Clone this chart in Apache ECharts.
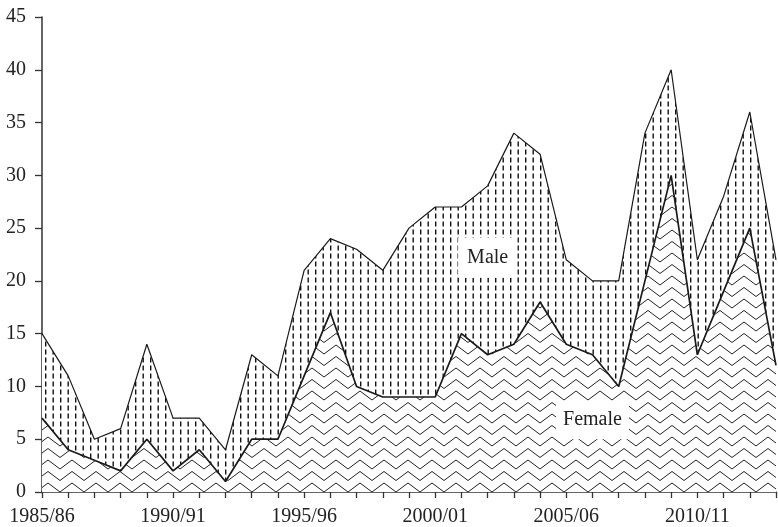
<!DOCTYPE html>
<html>
<head>
<meta charset="utf-8">
<script src="https://cdn.jsdelivr.net/npm/echarts@6/dist/echarts.min.js"></script>
<style>
  html, body { margin: 0; padding: 0; background: #fff; }
  #chart { width: 778px; height: 527px; }
</style>
</head>
<body>
<div id="chart"></div>
<script>
const years = [
  '1985/86', '1986/87', '1987/88', '1988/89', '1989/90',
  '1990/91', '1991/92', '1992/93', '1993/94', '1994/95',
  '1995/96', '1996/97', '1997/98', '1998/99', '1999/00',
  '2000/01', '2001/02', '2002/03', '2003/04', '2004/05',
  '2005/06', '2006/07', '2007/08', '2008/09', '2009/10',
  '2010/11', '2011/12', '2012/13', '2013/14'
]

// female counts (bottom layer)
const female = [7, 4, 3, 2, 5, 2, 4, 1, 5, 5, 11, 17, 10, 9, 9, 9, 15, 13, 14, 18, 14, 13, 10, 20, 30, 13, 19, 25, 12]
// male counts (stacked on top of female)
const male = [8, 7, 2, 4, 9, 5, 3, 3, 8, 6, 10, 7, 13, 12, 16, 18, 12, 16, 20, 14, 8, 7, 10, 14, 10, 9, 9, 11, 10]

const yTicks = { min: 0, max: 45, step: 5 }

const FONT = '"Liberation Serif", "DejaVu Serif", serif'

// vertical dashed lines for the male band
const makeDashPattern = () => {
  const c = document.createElement('canvas')
  c.width = 15
  c.height = 16
  const ctx = c.getContext('2d')
  ctx.fillStyle = '#fff'
  ctx.fillRect(0, 0, 15, 16)
  ctx.strokeStyle = '#111'
  ctx.lineWidth = 1.4
  ;[0.7, 8.2].forEach(x => {
    ;[0, 8, 16].forEach(y => {
      ctx.beginPath()
      ctx.moveTo(x, y - 2.6)
      ctx.lineTo(x, y + 2.6)
      ctx.stroke()
    })
  })
  return c
}

// zigzag rows for the female band
const makeZigzagPattern = () => {
  const w = 24, h = 23, row = 11.5, amp = 9
  const half = w / 2
  const c = document.createElement('canvas')
  c.width = w
  c.height = h
  const ctx = c.getContext('2d')
  ctx.fillStyle = '#fff'
  ctx.fillRect(0, 0, w, h)
  ctx.strokeStyle = '#222'
  ctx.lineWidth = 1
  for (let off = -row; off <= h + row; off += row) {
    ctx.beginPath()
    ctx.moveTo(-half, off + amp)
    ctx.lineTo(0, off)
    ctx.lineTo(half, off + amp)
    ctx.lineTo(w, off)
    ctx.lineTo(w + half, off + amp)
    ctx.stroke()
  }
  return c
}

const chart = echarts.init(document.getElementById('chart'))

const option = {
  animation: false,
  backgroundColor: '#fff',
  grid: { left: 42, right: 2, top: 17, bottom: 33, containLabel: false },
  xAxis: {
    type: 'category',
    data: years,
    boundaryGap: false,
    axisLine: { lineStyle: { color: '#333', width: 1.5 } },
    axisTick: { show: true, interval: 0, length: 6, lineStyle: { color: '#333', width: 1.3 } },
    axisLabel: { interval: 4, margin: 15, color: '#222', fontFamily: FONT, fontSize: 20 },
    splitLine: { show: false }
  },
  yAxis: {
    type: 'value',
    min: yTicks.min,
    max: yTicks.max,
    interval: yTicks.step,
    axisLine: { show: true, lineStyle: { color: '#333', width: 1.5 } },
    axisTick: { show: true, length: 7, lineStyle: { color: '#333', width: 1.3 } },
    axisLabel: { margin: 16, color: '#222', fontFamily: FONT, fontSize: 20 },
    splitLine: { show: false }
  },
  series: [
    {
      name: 'Female',
      type: 'line',
      stack: 'total',
      data: female,
      symbol: 'none',
      lineStyle: { color: '#1a1a1a', width: 1.7 },
      areaStyle: { color: { image: makeZigzagPattern(), repeat: 'repeat' }, opacity: 1 },
      z: 2
    },
    {
      name: 'Male',
      type: 'line',
      stack: 'total',
      data: male,
      symbol: 'none',
      lineStyle: { color: '#1a1a1a', width: 1.2 },
      areaStyle: { color: { image: makeDashPattern(), repeat: 'repeat' }, opacity: 1 },
      z: 1
    }
  ]
}

chart.setOption(option)

// in-chart series labels
const labelAt = (text, idx, value, padH, padV) => {
  const [x, y] = chart.convertToPixel({ gridIndex: 0 }, [idx, value])
  return {
    type: 'text',
    x, y, z: 100,
    style: {
      text,
      font: '20px ' + FONT,
      fill: '#222',
      align: 'center',
      verticalAlign: 'middle',
      backgroundColor: '#fff',
      padding: [padV, padH]
    }
  }
}

chart.setOption({
  graphic: [
    labelAt('Male', 16.9, 22.2, 9, 10),
    labelAt('Female', 21.35, 6.8, 7, 9)
  ]
})
</script>
</body>
</html>
